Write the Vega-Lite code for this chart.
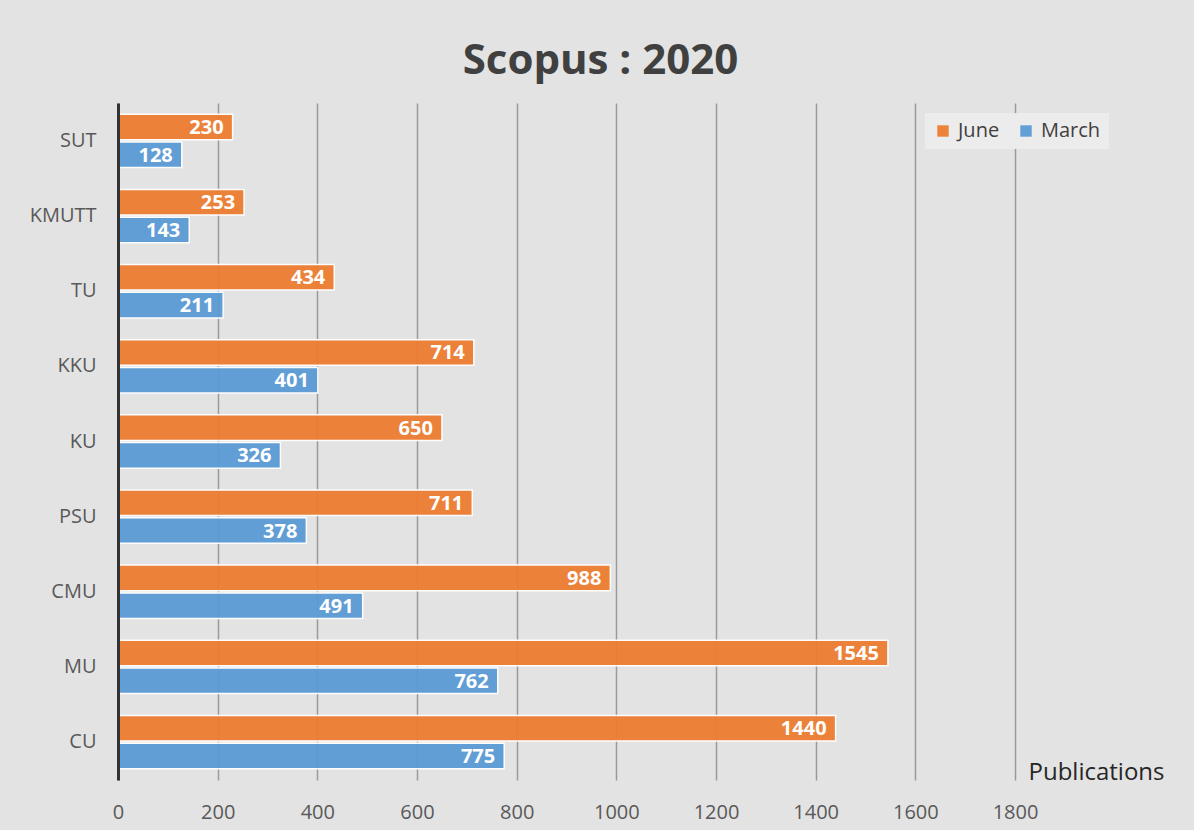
{
  "$schema": "https://vega.github.io/schema/vega-lite/v6.json",
  "width": 897,
  "height": 677,
  "autosize": {"type": "none"},
  "padding": {"left": 118, "top": 103, "right": 179, "bottom": 50},
  "background": "#e3e3e3",
  "title": {
    "text": "Scopus : 2020",
    "font": "Open Sans",
    "fontSize": 42,
    "fontWeight": "bold",
    "color": "#404040",
    "anchor": "middle",
    "dx": 34,
    "offset": 20
  },
  "config": {
    "view": {"stroke": null},
    "font": "Open Sans"
  },
  "data": {
    "values": [
      {"uni": "SUT", "month": "June", "value": 230},
      {"uni": "SUT", "month": "March", "value": 128},
      {"uni": "KMUTT", "month": "June", "value": 253},
      {"uni": "KMUTT", "month": "March", "value": 143},
      {"uni": "TU", "month": "June", "value": 434},
      {"uni": "TU", "month": "March", "value": 211},
      {"uni": "KKU", "month": "June", "value": 714},
      {"uni": "KKU", "month": "March", "value": 401},
      {"uni": "KU", "month": "June", "value": 650},
      {"uni": "KU", "month": "March", "value": 326},
      {"uni": "PSU", "month": "June", "value": 711},
      {"uni": "PSU", "month": "March", "value": 378},
      {"uni": "CMU", "month": "June", "value": 988},
      {"uni": "CMU", "month": "March", "value": 491},
      {"uni": "MU", "month": "June", "value": 1545},
      {"uni": "MU", "month": "March", "value": 762},
      {"uni": "CU", "month": "June", "value": 1440},
      {"uni": "CU", "month": "March", "value": 775}
    ]
  },
  "encoding": {
    "y": {
      "field": "uni",
      "type": "nominal",
      "sort": ["SUT", "KMUTT", "TU", "KKU", "KU", "PSU", "CMU", "MU", "CU"],
      "scale": {"paddingInner": 0.29, "paddingOuter": 0.15},
      "axis": {
        "title": null,
        "domainColor": "#333333",
        "domainWidth": 3,
        "ticks": false,
        "labelFontSize": 20,
        "labelColor": "#595959",
        "labelPadding": 22,
        "grid": false,
        "zindex": 1
      }
    },
    "yOffset": {
      "field": "month",
      "type": "nominal",
      "sort": ["June", "March"],
      "scale": {"paddingInner": 0.08}
    },
    "x": {
      "field": "value",
      "type": "quantitative",
      "scale": {"domain": [0, 1800], "nice": false},
      "axis": {
        "values": [0, 200, 400, 600, 800, 1000, 1200, 1400, 1600, 1800],
        "format": "d",
        "domain": false,
        "ticks": false,
        "grid": true,
        "gridColor": "#9a9a9a",
        "gridWidth": 1.5,
        "labelFontSize": 20,
        "labelColor": "#595959",
        "labelPadding": 22,
        "labelFlush": false,
        "title": "Publications",
        "titleFontSize": 24,
        "titleFontWeight": "normal",
        "titleColor": "#262626",
        "titleAnchor": "start",
        "titleAlign": "left",
        "titleX": 910,
        "titleY": 4,
        "titleBaseline": "bottom"
      }
    }
  },
  "layer": [
    {
      "mark": {"type": "bar", "stroke": "#ffffff", "strokeWidth": 1.5, "opacity": 0.95},
      "encoding": {
        "color": {
          "field": "month",
          "type": "nominal",
          "scale": {"domain": ["June", "March"], "range": ["#ED7D31", "#5B9BD5"]},
          "legend": {
            "title": null,
            "orient": "none",
            "direction": "horizontal",
            "legendX": 807,
            "legendY": 10,
            "symbolType": "square",
            "symbolSize": 130,
            "symbolStrokeWidth": 0,
            "labelFontSize": 20,
            "labelColor": "#404040",
            "columnPadding": 16,
            "labelOffset": 5,
            "fillColor": "#ececec",
            "padding": 8
          }
        }
      }
    },
    {
      "mark": {
        "type": "text",
        "align": "right",
        "baseline": "middle",
        "dx": -9,
        "dy": 1,
        "fontSize": 20,
        "fontWeight": "bold",
        "color": "#ffffff"
      },
      "encoding": {
        "text": {"field": "value", "type": "quantitative"}
      }
    }
  ]
}
